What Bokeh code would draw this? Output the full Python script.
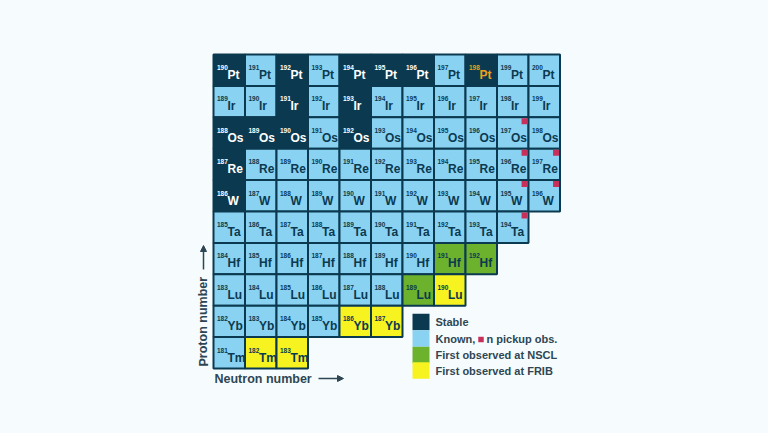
from bokeh.plotting import figure
from bokeh.models import Arrow, NormalHead, ColumnDataSource
from bokeh.core.properties import value
from bokeh.embed import file_html
from bokeh.resources import INLINE

# ---------------- data ----------------
elements = ["Pt", "Ir", "Os", "Re", "W", "Ta", "Hf", "Lu", "Yb", "Tm"]
proton_numbers = [78, 77, 76, 75, 74, 73, 72, 71, 70, 69]
first_mass = [190, 189, 188, 187, 186, 185, 184, 183, 182, 181]
last_mass = [200, 199, 198, 197, 196, 194, 192, 190, 187, 183]
stable = {"Pt": [190, 192, 194, 195, 196, 198], "Ir": [191, 193],
          "Os": [188, 189, 190, 192], "Re": [187], "W": [186]}
first_nscl = {"Hf": [191, 192], "Lu": [189]}
first_frib = {"Lu": [190], "Yb": [186, 187], "Tm": [182, 183]}
pickup_obs = {"Os": [197], "Re": [196, 197], "W": [195, 196], "Ta": [194]}
highlight = {"Pt": [198]}
legend_labels = ["Stable", "Known,", "First observed at NSCL", "First observed at FRIB"]
legend_extra = "n pickup obs."
x_label = "Neutron number"
y_label = "Proton number"

# ---------------- style ----------------
NAVY = "#0b3a50"
LIGHT = "#8ad2f2"
GREEN = "#6cb22c"
YELLOW = "#f6f321"
RED = "#c8305c"
ORANGE = "#eea020"
LABEL = "#2e4654"
BG = "#f6fcfd"
FONT = "Liberation Sans"

W, H = 752, 417
CELL_W, CELL_H = 31.5, 31.4
PAGE_OFF = 0
GRID_LEFT_PX, GRID_TOP_PX = 213 - PAGE_OFF, 54 - PAGE_OFF
N0 = first_mass[0] - proton_numbers[0]        # neutron number of first column
x0 = N0 - 0.5 - GRID_LEFT_PX / CELL_W
x1 = x0 + W / CELL_W
y1 = proton_numbers[0] + 0.5 + GRID_TOP_PX / CELL_H
y0 = y1 - H / CELL_H


def px2x(page_x):
    return x0 + (page_x - PAGE_OFF) / CELL_W


def px2y(page_y):
    return y1 - (page_y - PAGE_OFF) / CELL_H


# ---------------- build cells ----------------
cx, cy, fill, tcol, sup, sym = [], [], [], [], [], []
px, py = [], []
for el, Z, a0, a1 in zip(elements, proton_numbers, first_mass, last_mass):
    for A in range(a0, a1 + 1):
        N = A - Z
        if A in stable.get(el, []):
            c, t = NAVY, "white"
        elif A in first_nscl.get(el, []):
            c, t = GREEN, NAVY
        elif A in first_frib.get(el, []):
            c, t = YELLOW, NAVY
        else:
            c, t = LIGHT, NAVY
        if A in highlight.get(el, []):
            t = ORANGE
        cx.append(N); cy.append(Z); fill.append(c); tcol.append(t)
        sup.append(str(A)); sym.append(el)
        if A in pickup_obs.get(el, []):
            px.append(N); py.append(Z)

src = ColumnDataSource(dict(x=cx, y=cy, fill=fill, tcol=tcol, sup=sup, sym=sym,
                            left=[v - 0.5 for v in cx], top=[v + 0.5 for v in cy]))

p = figure(width=W, height=H, x_range=(x0, x1), y_range=(y0, y1),
           output_backend="svg", toolbar_location=None, min_border=0)
p.axis.visible = False
p.grid.visible = False
p.outline_line_color = None
p.background_fill_color = BG
p.border_fill_color = BG

p.rect(x="x", y="y", width=1, height=1, source=src, fill_color="fill",
       line_color=NAVY, line_width=2)

p.text(x="left", y="top", text="sup", source=src, text_color="tcol",
       text_font=value(FONT), text_font_style="bold", text_font_size="6.5px",
       text_baseline="alphabetic", text_align="left", x_offset=3.5, y_offset=13)
p.text(x="left", y="top", text="sym", source=src, text_color="tcol",
       text_font=value(FONT), text_font_style="bold", text_font_size="12px",
       text_baseline="alphabetic", text_align="left", x_offset=14, y_offset=20.5)

m = 6 / CELL_W
p.rect(x=[v + 0.5 - m / 2 - 0.03 for v in px], y=[v + 0.5 - m / 2 - 0.03 for v in py],
       width=m, height=6 / CELL_H, fill_color=RED, line_color=None)

# ---------------- legend ----------------
leg_cols = [NAVY, LIGHT, GREEN, YELLOW]
leg_y_px = [321.5, 338, 354.5, 370]
for col, ypx, lab in zip(leg_cols, leg_y_px, legend_labels):
    p.rect(x=px2x(420.5), y=px2y(ypx), width=17 / CELL_W, height=16.5 / CELL_H,
           fill_color=col, line_color=None)
    p.text(x=px2x(435), y=px2y(ypx), text=[lab], text_color=LABEL,
           text_font=value(FONT), text_font_style="bold", text_font_size="11px",
           text_baseline="middle", text_align="left")
p.rect(x=px2x(480.5), y=px2y(339), width=5.5 / CELL_W, height=5.5 / CELL_H,
       fill_color=RED, line_color=None)
p.text(x=px2x(486), y=px2y(338), text=[legend_extra], text_color=LABEL,
       text_font=value(FONT), text_font_style="bold", text_font_size="11px",
       text_baseline="middle", text_align="left")

# ---------------- axis labels ----------------
p.text(x=px2x(214), y=px2y(378), text=[x_label], text_color=LABEL,
       text_font=value(FONT), text_font_style="bold", text_font_size="12.5px",
       text_baseline="middle", text_align="left")
p.add_layout(Arrow(x_start=px2x(318), y_start=px2y(378), x_end=px2x(343), y_end=px2y(378),
                   line_color=LABEL, line_width=1.5,
                   end=NormalHead(size=6, fill_color=LABEL, line_color=LABEL)))
p.text(x=px2x(203), y=px2y(366), text=[y_label], text_color=LABEL, angle=1.5708,
       text_font=value(FONT), text_font_style="bold", text_font_size="12.5px",
       text_baseline="middle", text_align="left")
p.add_layout(Arrow(x_start=px2x(203), y_start=px2y(269), x_end=px2x(203), y_end=px2y(245),
                   line_color=LABEL, line_width=1.5,
                   end=NormalHead(size=6, fill_color=LABEL, line_color=LABEL)))

html = file_html(p, INLINE)
html = html.replace("<head>", "<head><style>body{background:%s}</style>" % BG, 1)
open("out.html", "w").write(html)
